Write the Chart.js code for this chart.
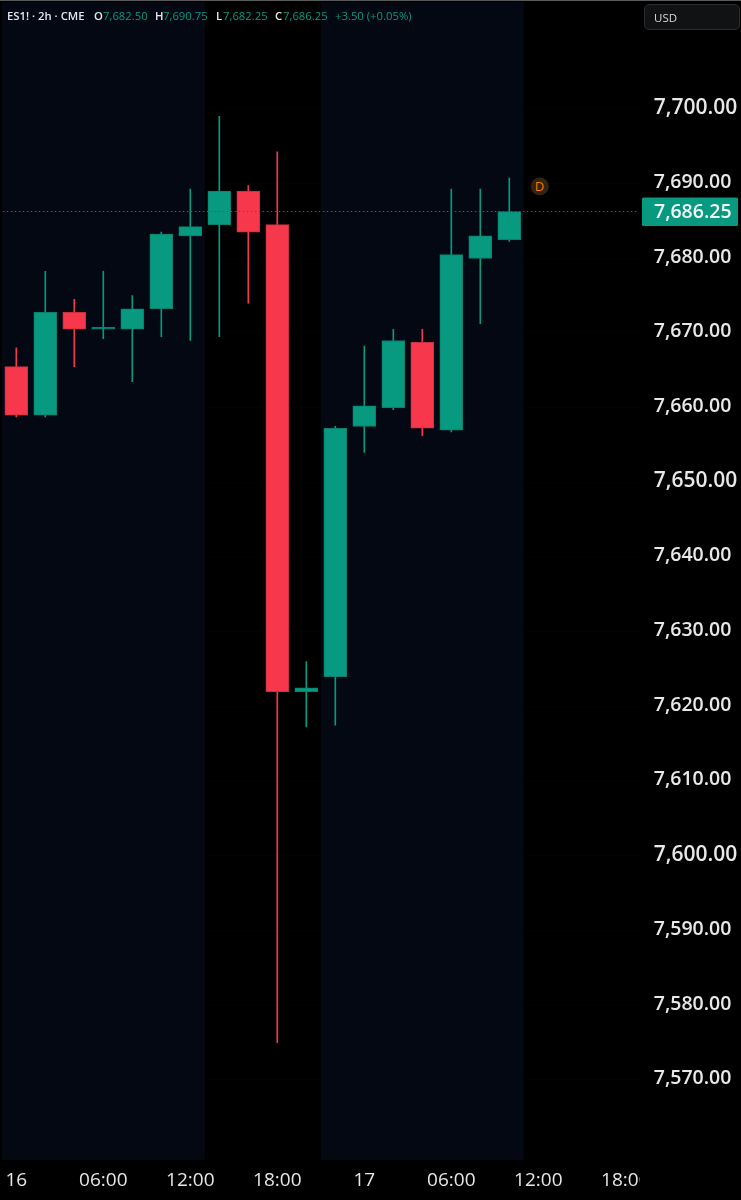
<!DOCTYPE html>
<html>
<head>
<meta charset="utf-8">
<title>ES1! 2h</title>
<script src="https://cdn.jsdelivr.net/npm/chart.js@4"></script>
<style>
html, body { margin: 0; padding: 0; background: #000; }
#wrap { position: relative; width: 741px; height: 1200px; overflow: hidden; }
canvas { display: block; }
#topline { position: absolute; left: 0; top: 0; width: 741px; height: 1px; background: #5a5a5a; }
.lg { position: absolute; top: 8px; font: 11.3px "Open Sans", sans-serif; line-height: 15px; white-space: nowrap; color: #089981; }
.lg.k { color: #e4e6ea; font-weight: 600; }
#usd { position: absolute; left: 644px; top: 4px; width: 85px; height: 24px; padding-left: 9px; border: 1px solid #2a2c30; border-radius: 5px; background: #111213;
  color: #d6d8dc; font: 11.5px/25px "Open Sans", sans-serif; }
</style>
</head>
<body>
<div id="wrap">
  <canvas id="myChart" width="741" height="1200"></canvas>
  <div id="topline"></div>
  <span class="lg k" style="left:7px">ES1! · 2h · CME</span>
  <span class="lg k" style="left:94px">O</span><span class="lg" style="left:103px">7,682.50</span>
  <span class="lg k" style="left:155px">H</span><span class="lg" style="left:163px">7,690.75</span>
  <span class="lg k" style="left:216px">L</span><span class="lg" style="left:223px">7,682.25</span>
  <span class="lg k" style="left:275px">C</span><span class="lg" style="left:283px">7,686.25</span>
  <span class="lg" style="left:335px">+3.50 (+0.05%)</span>
  <div id="usd">USD</div>
</div>
<script>
// eje de tiempo, una etiqueta cada 2h (vacio = sin etiqueta)
const timeLabels = ["16","","","06:00","","","12:00","","","18:00","","","17","","","06:00","","","12:00","","","18:00"];

const opens  = [7665.50,7659.00,7672.75,7670.50,7670.50,7673.25,7683.00,7684.50,7689.00,7684.50,7622.00,7624.00,7657.50,7660.00,7668.75,7657.00,7680.00,7682.50];
const highs  = [7668.00,7678.25,7674.50,7678.25,7675.00,7683.50,7689.25,7699.00,7689.75,7694.25,7626.00,7657.50,7668.25,7670.50,7670.50,7689.25,7689.25,7690.75];
const lows   = [7658.75,7658.75,7665.50,7669.25,7663.50,7669.50,7669.00,7669.50,7674.00,7575.00,7617.25,7617.50,7654.00,7659.75,7656.25,7656.75,7671.25,7682.25];
const closes = [7659.00,7672.75,7670.50,7670.75,7673.25,7683.25,7684.25,7689.00,7683.50,7622.00,7622.50,7657.25,7660.25,7669.00,7657.25,7680.50,7683.00,7686.25];

const priceTicks = [7700,7690,7680,7670,7660,7650,7640,7630,7620,7610,7600,7590,7580,7570];
const majorTicks = [7700,7650,7600];
const lastPrice = 7686.25;
const dividendMark = { index: 18.05, price: 7689.62 };
const sessions = [[-0.5, 6.5], [10.5, 17.5]];

const UP = "#089981";
const DOWN = "#F7374B";
const isUp = opens.map((o, i) => closes[i] >= o);
const candleColors = isUp.map(u => u ? UP : DOWN);
const edgeColors = isUp.map(u => u ? "#0a7f6c" : "#c9303f");
const FONT = '"Open Sans", sans-serif';
const Y_MIN = 7559.29, Y_MAX = 7714.31;

function noPadding(scale) {
  scale.paddingLeft = scale.paddingRight = scale.paddingTop = scale.paddingBottom = 0;
}

const sessionBands = {
  id: "sessionBands",
  beforeDatasetsDraw(chart) {
    const { ctx, chartArea, scales } = chart;
    ctx.save();
    ctx.fillStyle = "#030812";
    sessions.forEach(s => {
      const x0 = scales.x.getPixelForValue(s[0]);
      const x1 = scales.x.getPixelForValue(s[1]);
      ctx.fillRect(x0, chartArea.top, x1 - x0, chartArea.bottom - chartArea.top);
    });
    ctx.restore();
  }
};

// linea punteada del ultimo precio, etiqueta verde y la marca D
const priceOverlay = {
  id: "priceOverlay",
  afterDraw(chart) {
    const { ctx, chartArea, scales } = chart;
    const y = scales.y.getPixelForValue(lastPrice);
    ctx.save();
    // corta la ultima etiqueta de tiempo donde empieza el eje de precios
    ctx.fillStyle = "#000";
    ctx.fillRect(640, chartArea.bottom, 101, 40);

    ctx.strokeStyle = "#0c7a68";
    ctx.lineWidth = 1;
    ctx.setLineDash([1.5, 2.5]);
    ctx.beginPath();
    ctx.moveTo(chartArea.left + 1, Math.round(y) - 0.5);
    ctx.lineTo(chartArea.right - 2, Math.round(y) - 0.5);
    ctx.stroke();
    ctx.setLineDash([]);

    ctx.fillStyle = UP;
    ctx.beginPath();
    ctx.roundRect(642, y - 14, 96, 28.5, 1.5);
    ctx.fill();
    ctx.fillStyle = "#f4f6f5";
    ctx.font = "600 19.5px " + FONT;
    ctx.textAlign = "left";
    ctx.textBaseline = "middle";
    ctx.fillText("7,686.25", 654, y + 0.5);

    const dx = scales.x.getPixelForValue(dividendMark.index);
    const dy = scales.y.getPixelForValue(dividendMark.price);
    ctx.fillStyle = "#33230f";
    ctx.beginPath();
    ctx.arc(dx, dy, 9, 0, Math.PI * 2);
    ctx.fill();
    ctx.fillStyle = "#f57c00";
    ctx.font = "500 13px " + FONT;
    ctx.textAlign = "center";
    ctx.fillText("D", dx, dy + 0.5);
    ctx.restore();
  }
};

let miCanvas = document.getElementById("myChart").getContext("2d");

var chart = new Chart(miCanvas, {
  type: "bar",
  plugins: [sessionBands, priceOverlay],
  data: {
    labels: timeLabels,
    datasets: [
      {
        label: "Cuerpo",
        data: opens.map((o, i) => [o, closes[i]]),
        backgroundColor: candleColors,
        borderColor: edgeColors,
        borderWidth: 1,
        borderSkipped: false,
        barThickness: 23,
        grouped: false,
        order: 1
      },
      {
        label: "Mecha",
        data: lows.map((l, i) => [l, highs[i]]),
        backgroundColor: candleColors,
        barThickness: 1,
        grouped: false,
        order: 2
      }
    ]
  },
  options: {
    responsive: false,
    devicePixelRatio: 1,
    animation: false,
    layout: { padding: { left: 1.8, top: 2, right: 0, bottom: 0 } },
    plugins: { legend: { display: false }, tooltip: { enabled: false } },
    scales: {
      x: {
        type: "category",
        offset: true,
        afterFit(scale) { scale.height = 40; noPadding(scale); },
        grid: { display: false, drawTicks: false },
        border: { display: false },
        ticks: {
          autoSkip: false,
          maxRotation: 0,
          padding: 9,
          color: "#e6e6e6",
          font: { family: FONT, size: 19, weight: "500" }
        }
      },
      y: {
        position: "right",
        min: Y_MIN,
        max: Y_MAX,
        afterBuildTicks(scale) { scale.ticks = priceTicks.map(v => ({ value: v })); },
        afterFit(scale) { scale.width = 0; noPadding(scale); },
        grid: { color: "rgba(255,255,255,0.012)", drawTicks: false },
        border: { display: false },
        ticks: { display: false }
      },
      // las etiquetas van un poco por encima de su nivel
      yLabels: {
        position: "right",
        min: Y_MIN - 0.17,
        max: Y_MAX - 0.17,
        afterBuildTicks(scale) { scale.ticks = priceTicks.map(v => ({ value: v })); },
        afterFit(scale) { scale.width = 101.2; noPadding(scale); },
        grid: { display: false, drawTicks: false },
        border: { display: false },
        ticks: {
          padding: 14,
          crossAlign: "near",
          color: "#e8e8e8",
          font: ctx => (ctx.tick && majorTicks.includes(ctx.tick.value))
            ? { family: FONT, size: 21, weight: "600" }
            : { family: FONT, size: 19.5, weight: "600" },
          callback: v => v.toLocaleString("en-US", { minimumFractionDigits: 2, maximumFractionDigits: 2 })
        }
      }
    }
  }
});
</script>
</body>
</html>
